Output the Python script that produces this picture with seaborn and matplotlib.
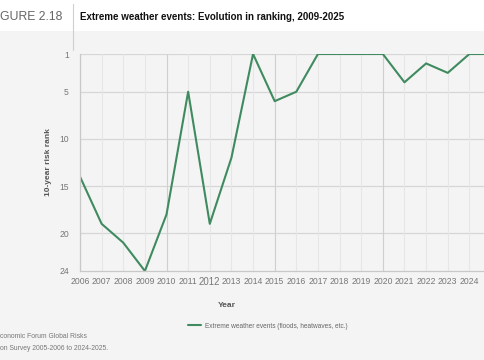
import pandas as pd
import matplotlib.pyplot as plt
import seaborn as sns
from matplotlib.lines import Line2D
from matplotlib.patches import Rectangle

years = list(range(2006, 2026))
rank = [14, 19, 21, 24, 18, 5, 19, 12, 1, 6, 5, 1, 1, 1, 1, 4, 2, 3, 1, 1]
series_name = "Extreme weather events (floods, heatwaves, etc.)"
y_ticks = [1, 5, 10, 15, 20, 24]
x_tick_years = years[:-1]  # 2025 label falls off the page

df = pd.DataFrame({"Year": years, "Rank": rank, "Risk": series_name})

sns.set_theme(style="white")
plt.rcParams["font.family"] = ["Liberation Sans", "DejaVu Sans"]

bg = "#f4f4f4"
green = "#3f8b5f"
fig = plt.figure(figsize=(4.85, 3.6), dpi=100, facecolor=bg)

# white header band
fig.add_artist(Rectangle((0, 1 - 31 / 360), 1, 31 / 360, transform=fig.transFigure,
                         facecolor="white", edgecolor="none", zorder=0))
fig.add_artist(Line2D([73 / 485, 73 / 485], [1 - 4 / 360, 1 - 50 / 360],
                      transform=fig.transFigure, color="#cfcfcf", lw=0.8))
fig.text(0, 1 - 17 / 360, "GURE 2.18", fontsize=8.8, color="#666666", va="center")
fig.text(80 / 485, 1 - 17 / 360, "Extreme weather events: Evolution in ranking, 2009-2025",
         fontsize=7.0, fontweight="bold", color="#111111", va="center")

ax = fig.add_axes([80 / 485, 1 - 271 / 360, 411 / 485, 217 / 360])
ax.set_facecolor(bg)

sns.lineplot(data=df, x="Year", y="Rank", hue="Risk", palette=[green], linewidth=1.5, ax=ax)

ax.set_xlim(2006, 2025)
ax.set_ylim(24, 1)
ax.set_yticks(y_ticks)
ax.set_xticks(x_tick_years)
ax.tick_params(axis="both", length=0, labelsize=6.2, colors="#777777", pad=4)
ax.tick_params(axis="y", pad=8)
for lab in ax.get_xticklabels():
    if lab.get_text() == "2012":
        lab.set_fontsize(6.9)

for y in y_ticks[:-1]:
    ax.axhline(y, color="#d6d6d6", lw=0.9, zorder=0)
for x in years:
    c = "#cfcfcf" if x % 5 == 0 else "#e6e6e6"
    ax.axvline(x, color=c, lw=0.8, zorder=0)

for s in ["top", "right"]:
    ax.spines[s].set_visible(False)
for s in ["left", "bottom"]:
    ax.spines[s].set_color("#c8c8c8")
    ax.spines[s].set_linewidth(0.9)

ax.set_xlabel("Year", fontsize=6.0, fontweight="bold", color="#555555")
ax.xaxis.set_label_coords((227 - 80) / 411, -(302 - 271) / 217)
ax.set_ylabel("10-year risk rank", fontsize=6.0, fontweight="bold", color="#555555")
ax.yaxis.set_label_coords(-(80 - 52) / 411, 0.5)

ax.legend(loc="center left", bbox_to_anchor=(182 / 485, 1 - 326 / 360),
          bbox_transform=fig.transFigure, frameon=False, fontsize=4.7,
          labelcolor="#666666", handlelength=2.0, handletextpad=0.6)

fig.text(0, 1 - 337 / 360, "conomic Forum Global Risks", fontsize=4.9, color="#777777", va="center")
fig.text(0, 1 - 349 / 360, "on Survey 2005-2006 to 2024-2025.", fontsize=4.9, color="#777777", va="center")

fig.savefig("out.png", dpi=100, facecolor=bg)
